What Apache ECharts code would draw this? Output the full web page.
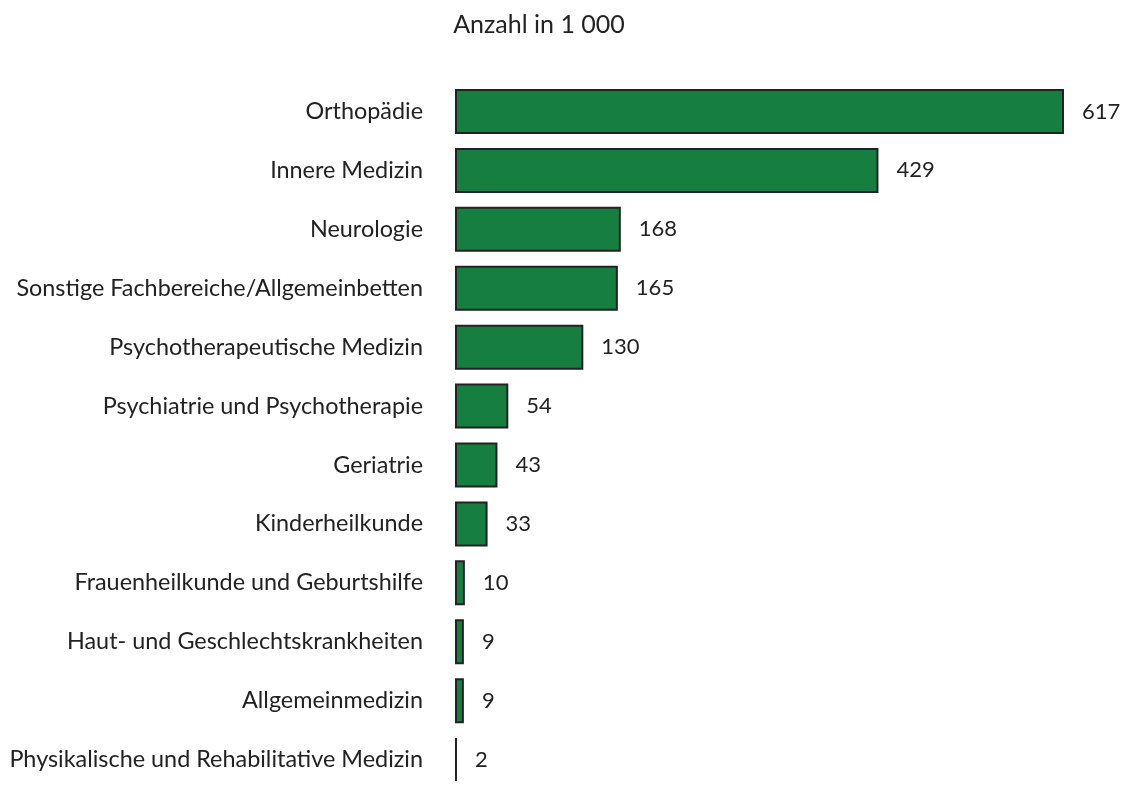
<!DOCTYPE html>
<html>
<head>
<meta charset="utf-8">
<script src="https://cdn.jsdelivr.net/npm/echarts@6/dist/echarts.min.js"></script>
<style>
  html, body { margin: 0; padding: 0; background: #fff; }
  #chart { width: 1127px; height: 789px; }
</style>
</head>
<body>
<div id="chart"></div>
<script>
  // Daten
  const categories = [
    'Orthopädie',
    'Innere Medizin',
    'Neurologie',
    'Sonstige Fachbereiche/Allgemeinbetten',
    'Psychotherapeutische Medizin',
    'Psychiatrie und Psychotherapie',
    'Geriatrie',
    'Kinderheilkunde',
    'Frauenheilkunde und Geburtshilfe',
    'Haut- und Geschlechtskrankheiten',
    'Allgemeinmedizin',
    'Physikalische und Rehabilitative Medizin'
  ];
  const values = [617, 429, 168, 165, 130, 54, 43, 33, 10, 9, 9, 2];
  const titleText = 'Anzahl in 1 000';

  const font = 'Lato, "Noto Sans", sans-serif';
  const myChart = echarts.init(document.getElementById('chart'));
  myChart.setOption({
    animation: false,
    title: {
      text: titleText,
      left: 534,
      top: 7,
      textAlign: 'center',
      textStyle: { fontFamily: font, fontSize: 25, fontWeight: 'normal', color: '#222' }
    },
    grid: { left: 455, right: 63, top: 82, height: 716 },
    xAxis: {
      type: 'value',
      min: 0,
      max: 617,
      show: false
    },
    yAxis: {
      type: 'category',
      data: categories,
      inverse: true,
      axisLine: { show: false },
      axisTick: { show: false },
      axisLabel: {
        margin: 32,
        fontFamily: font,
        fontSize: 23.4,
        color: '#222'
      }
    },
    series: [
      {
        type: 'bar',
        data: values,
        barWidth: 45,
        itemStyle: {
          color: '#167f40',
          borderColor: '#222',
          borderWidth: 2
        },
        label: {
          show: true,
          position: 'right',
          distance: 18,
          fontFamily: font,
          fontSize: 22,
          color: '#222'
        }
      }
    ]
  });
</script>
</body>
</html>
